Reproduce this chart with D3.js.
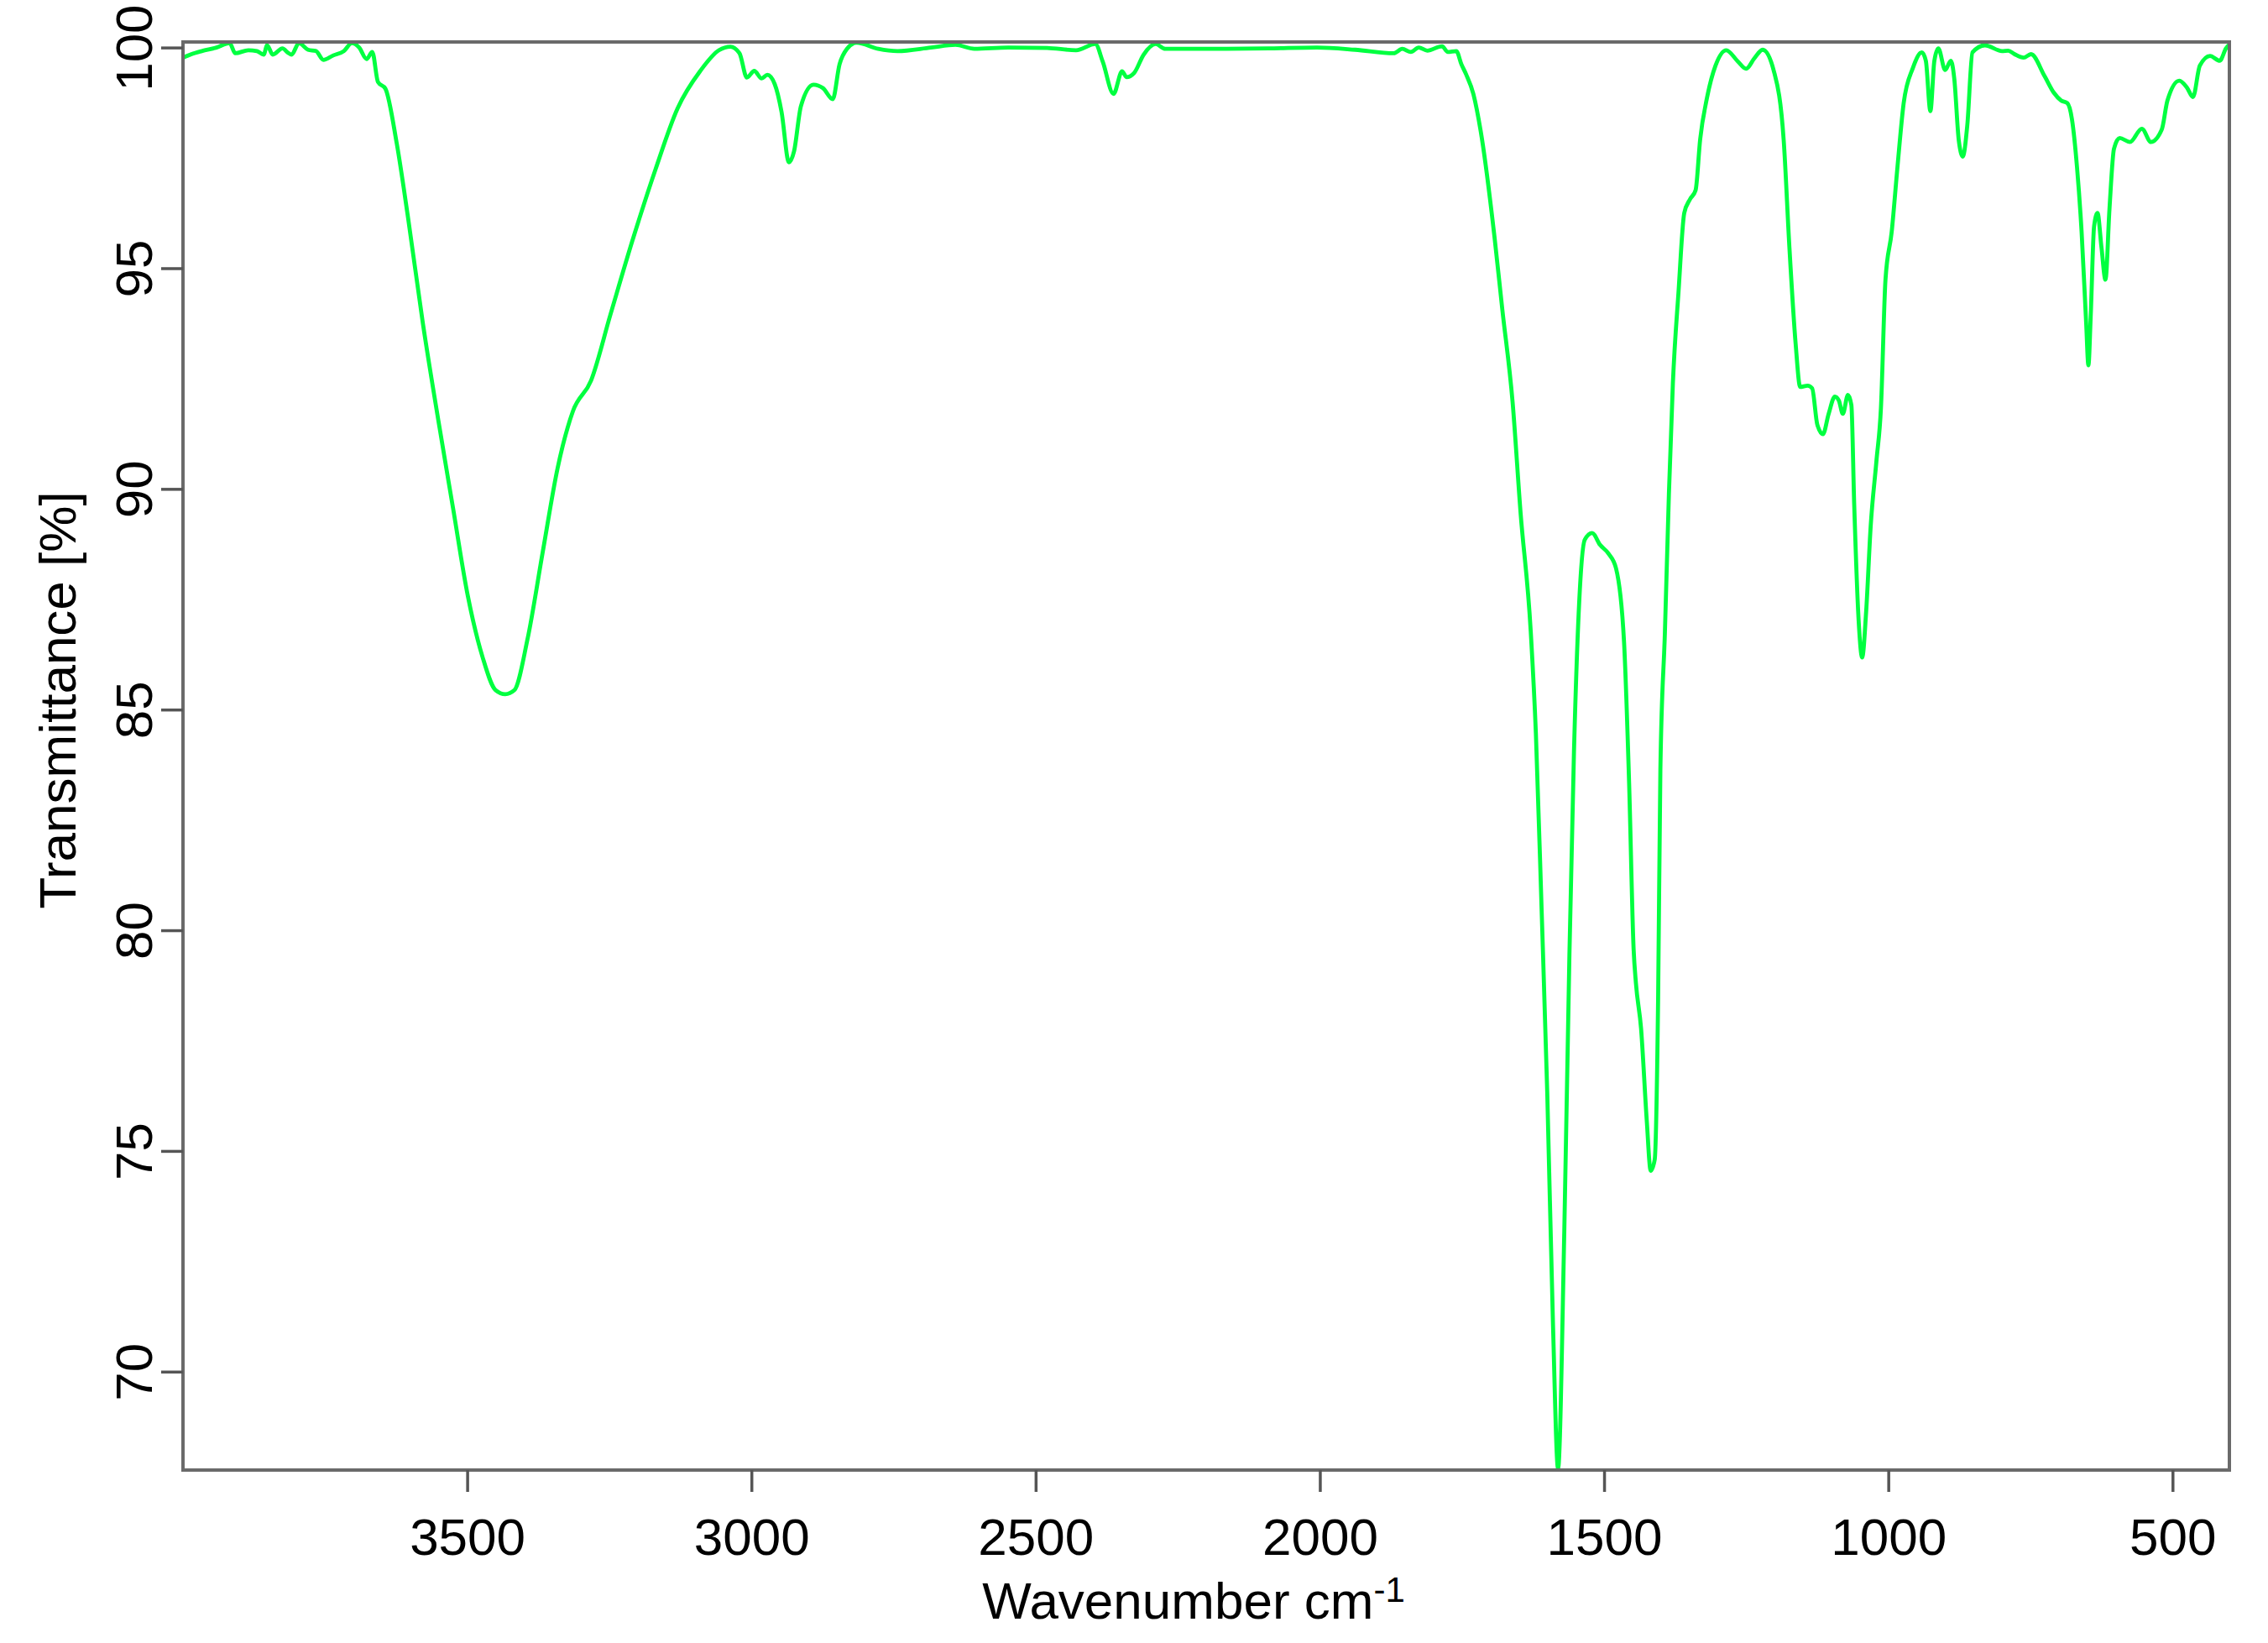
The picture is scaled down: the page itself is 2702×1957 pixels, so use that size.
<!DOCTYPE html>
<html>
<head>
<meta charset="utf-8">
<script src="https://cdn.jsdelivr.net/npm/d3@7/dist/d3.min.js"></script>
<style>
  html, body { margin: 0; padding: 0; background: #ffffff; }
  svg { display: block; }
  text { font-family: "Liberation Sans", Arial, Helvetica, sans-serif; fill: #000; }
</style>
</head>
<body>
<svg id="chart" width="2702" height="1957"></svg>
<script>
// ---- data ----
const wavenumber = [
  4000, 3985, 3967, 3941, 3918, 3908, 3885, 3870, 3858, 3852, 3842, 3825, 3815, 3809, 3796, 3780,
  3766, 3753, 3736, 3717, 3703, 3690, 3677, 3667, 3657, 3644, 3624, 3604, 3578, 3551, 3525, 3499,
  3473, 3450, 3433, 3417, 3394, 3367, 3341, 3314, 3282, 3248, 3209, 3169, 3130, 3090, 3057, 3037,
  3021, 3008, 2995, 2982, 2972, 2959, 2947, 2934, 2925, 2913, 2891, 2874, 2857, 2845, 2832, 2815,
  2777, 2743, 2684, 2641, 2608, 2548, 2480, 2429, 2395, 2382, 2363, 2348, 2340, 2327, 2310, 2289,
  2272, 2175, 2090, 2005, 1938, 1870, 1855, 1840, 1826, 1811, 1785, 1775, 1760, 1751, 1743, 1730,
  1717, 1693, 1679, 1661, 1647, 1629, 1620, 1610, 1600, 1590, 1581, 1570, 1561, 1553, 1544, 1534,
  1521, 1507, 1492, 1479, 1465, 1456, 1448, 1444, 1435, 1425, 1418, 1411, 1405, 1401, 1393, 1386,
  1379, 1369, 1359, 1349, 1339, 1331, 1319, 1304, 1285, 1265, 1250, 1236, 1221, 1201, 1184, 1174,
  1163, 1155, 1142, 1134, 1125, 1115, 1105, 1094, 1087, 1080, 1071, 1065, 1060, 1052, 1046, 1039,
  1031, 1021, 1013, 1005, 994, 984, 973, 957, 941, 934, 926, 919, 912, 900, 890, 884,
  876, 869, 861, 852, 830, 800, 789, 778, 762, 749, 725, 709, 696, 685, 677, 668,
  660, 652, 648, 644, 638, 632, 625, 618, 611, 603, 593, 575, 554, 538, 519, 509,
  488, 475, 464, 452, 434, 417, 406, 400
];
const transmittance = [
  99.77, 99.85, 99.92, 100.0, 100.1, 99.87, 99.94, 99.92, 99.84, 100.05, 99.84, 99.98, 99.88, 99.84, 100.1, 99.95,
  99.92, 99.72, 99.82, 99.92, 100.1, 100.0, 99.74, 99.9, 99.22, 99.07, 97.83, 96.14, 93.75, 91.57, 89.57, 87.58,
  86.19, 85.44, 85.35, 85.44, 86.59, 88.58, 90.47, 91.76, 92.46, 93.95, 95.64, 97.23, 98.62, 99.47, 99.94, 100.02,
  99.87, 99.32, 99.47, 99.30, 99.38, 99.17, 98.54, 97.40, 97.65, 98.67, 99.16, 99.08, 98.83, 99.62, 99.97, 100.11,
  99.97, 99.92, 100.0, 100.06, 99.97, 100.0, 99.99, 99.94, 100.08, 99.68, 98.95, 99.46, 99.33, 99.42, 99.84, 100.08,
  99.97, 99.97, 99.98, 100.0, 99.95, 99.87, 99.97, 99.9, 100.0, 99.93, 100.03, 99.9, 99.92, 99.62, 99.40, 98.95,
  98.10, 95.73, 94.06, 91.97, 89.47, 86.76, 84.46, 80.50, 76.32, 71.11, 67.8, 73.19, 79.45, 84.04, 87.38, 88.85,
  89.0, 88.73, 88.53, 88.2, 86.55, 83.34, 79.55, 78.8, 77.78, 75.70, 74.55, 74.8, 78.41, 83.63, 86.76, 89.88,
  92.39, 94.48, 96.25, 96.56, 96.77, 97.92, 98.86, 99.59, 99.94, 99.69, 99.52, 99.75, 99.95, 99.45, 97.89, 95.47,
  93.28, 92.31, 92.34, 92.28, 91.46, 91.24, 91.7, 92.09, 92.0, 91.70, 92.13, 91.9, 89.64, 86.97, 86.18, 87.22,
  89.16, 90.62, 91.83, 94.74, 95.83, 97.28, 98.74, 99.53, 99.89, 99.7, 98.56, 99.7, 99.98, 99.49, 99.7, 99.3,
  97.89, 97.53, 98.25, 99.89, 100.05, 99.92, 99.93, 99.85, 99.77, 99.85, 99.35, 98.98, 98.80, 98.74, 98.38, 97.28,
  95.83, 93.77, 92.80, 93.9, 95.95, 96.25, 95.47, 94.74, 96.33, 97.71, 97.95, 97.86, 98.16, 97.86, 98.14, 98.80,
  99.25, 99.1, 98.88, 99.59, 99.81, 99.7, 99.98, 100.07
];
const xTicks = [3500, 3000, 2500, 2000, 1500, 1000, 500];
const yTicks = [70, 75, 80, 85, 90, 95, 100];
const xLimits = [4000, 400];
const yLimits = [67.77, 100.126];
const xTitle = "Wavenumber cm";
const xTitleSup = "-1";
const yTitle = "Transmittance [%]";

// ---- layout ----
const plot = { left: 218, right: 2656, top: 50, bottom: 1751 };
const svg = d3.select("#chart");
svg.append("rect").attr("width", 2702).attr("height", 1957).attr("fill", "#fff");

const x = d3.scaleLinear().domain(xLimits).range([plot.left, plot.right]);
const y = d3.scaleLinear().domain(yLimits).range([plot.bottom, plot.top]);

const data = wavenumber.map((w, i) => ({ w, t: transmittance[i] }));

svg.append("clipPath").attr("id", "clip")
  .append("rect")
  .attr("x", plot.left).attr("y", plot.top)
  .attr("width", plot.right - plot.left).attr("height", plot.bottom - plot.top);

const line = d3.line()
  .x(d => x(d.w))
  .y(d => y(d.t))
  .curve(d3.curveMonotoneX);

svg.append("path")
  .datum(data)
  .attr("clip-path", "url(#clip)")
  .attr("fill", "none")
  .attr("stroke", "#00ff40")
  .attr("stroke-width", 4.8)
  .attr("stroke-linejoin", "round")
  .attr("d", line);

// box
svg.append("rect")
  .attr("x", plot.left).attr("y", plot.top)
  .attr("width", plot.right - plot.left).attr("height", plot.bottom - plot.top)
  .attr("fill", "none").attr("stroke", "#6a6a6a").attr("stroke-width", 4);

// x axis
const gx = svg.append("g")
  .attr("transform", `translate(0,${plot.bottom})`)
  .call(d3.axisBottom(x).tickValues(xTicks).tickSize(26).tickSizeOuter(0).tickFormat(d3.format("d")));
gx.select(".domain").remove();
gx.selectAll(".tick line").attr("stroke", "#555").attr("stroke-width", 3.5);
gx.selectAll(".tick text")
  .attr("y", 101).attr("dy", 0)
  .attr("font-size", 62)
  .attr("font-family", "Liberation Sans, Arial, sans-serif")
  .attr("fill", "#000");

// y axis
const gy = svg.append("g")
  .attr("transform", `translate(${plot.left},0)`)
  .call(d3.axisLeft(y).tickValues(yTicks).tickSize(26).tickSizeOuter(0).tickFormat(d3.format("d")));
gy.select(".domain").remove();
gy.selectAll(".tick line").attr("stroke", "#555").attr("stroke-width", 3.5);
gy.selectAll(".tick text")
  .attr("x", 0).attr("y", 0).attr("dy", 0)
  .attr("transform", "translate(-37,0) rotate(-90)")
  .attr("text-anchor", "middle")
  .attr("font-size", 62)
  .attr("font-family", "Liberation Sans, Arial, sans-serif")
  .attr("fill", "#000");

// axis titles
const xt = svg.append("text")
  .attr("x", 1422).attr("y", 1928)
  .attr("text-anchor", "middle")
  .attr("font-size", 62);
xt.append("tspan").text(xTitle);
xt.append("tspan").attr("font-size", 42).attr("dy", -20).text(xTitleSup);

svg.append("text")
  .attr("transform", "translate(90,834) rotate(-90)")
  .attr("text-anchor", "middle")
  .attr("font-size", 62)
  .text(yTitle);
</script>
</body>
</html>
